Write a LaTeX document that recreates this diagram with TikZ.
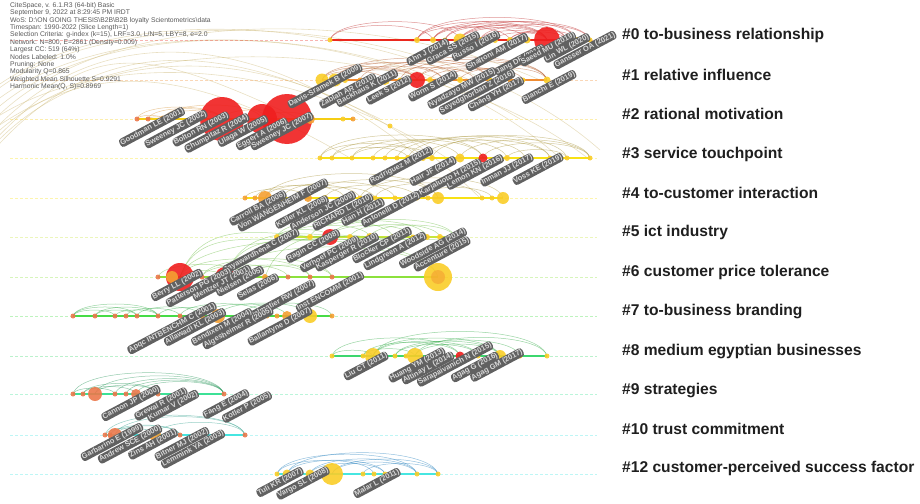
\documentclass[tikz,border=0pt]{standalone}
\usepackage{fontspec}
\setmainfont{Liberation Sans}
\pgfdeclarelayer{bg}
\pgfsetlayers{bg,main}

\definecolor{nyel}{RGB}{250,205,40}
\definecolor{nora}{RGB}{245,160,50}
\definecolor{nsal}{RGB}{235,120,75}
\definecolor{nred}{RGB}{240,30,30}
\definecolor{l0}{RGB}{235,40,30}
\definecolor{l1}{RGB}{240,140,50}
\definecolor{l2}{RGB}{245,205,20}
\definecolor{l3}{RGB}{248,225,20}
\definecolor{l5}{RGB}{200,230,60}
\definecolor{l6}{RGB}{140,225,60}
\definecolor{l7}{RGB}{70,220,70}
\definecolor{l8}{RGB}{60,215,110}
\definecolor{l9}{RGB}{60,225,150}
\definecolor{l10}{RGB}{70,230,225}
\definecolor{a0}{RGB}{190,40,40}
\definecolor{a1}{RGB}{180,90,40}
\definecolor{a2}{RGB}{215,150,60}
\definecolor{a3}{RGB}{170,150,60}
\definecolor{a5}{RGB}{110,190,70}
\definecolor{a7}{RGB}{50,170,70}
\definecolor{a9}{RGB}{40,150,90}
\definecolor{a10}{RGB}{50,160,140}
\definecolor{a12}{RGB}{40,130,190}
\definecolor{tanarc}{RGB}{205,185,120}

\tikzset{
  dot/.style={circle,inner sep=0pt,fill=#1,fill opacity=.9},
  tl/.style={line width=2pt},
  bgline/.style={densely dashed,line width=.5pt,opacity=.35},
  lk/.style={line width=.5pt,opacity=.5},
  bow/.style={out=75,in=105,looseness=.5},
  au/.style={rotate=28,fill=black!62,text=white!85!black,rounded corners=3pt,
    inner sep=1pt,font=\fontsize{7.5}{8}\selectfont\bfseries},
  cl/.style={anchor=west,inner sep=0pt,font=\fontsize{15.6}{17}\selectfont\bfseries,text=black!88},
  hd/.style={anchor=west,inner sep=0pt,font=\fontsize{6.8}{7}\selectfont,text=black!65},
}

\begin{document}
\begin{tikzpicture}[x=1pt,y=-1pt]
\useasboundingbox (0,0) rectangle (920,503);

% timeline guides
\foreach \y/\c in {40/l0,80/l1,119/l2,158/l3,198/l3,237/l5,277/l6,316/l7,356/l8,394/l9,435/l10,474/l10}
  \draw[bgline,\c] (10,\y) -- (597,\y);

% nodes of each cluster
\foreach \x/\s/\c [count=\i] in {330/5/nyel,417/6/nyel,433/6/nyel,445/5/nyel,460/13/nyel,480/6/nyel,495/6/nyel,510/6/nyel,527/7/nyel,547/26/nred,567/10/nyel,577/6/nyel,590/5/nyel}
  \node[dot=\c,minimum size=\s] (r0n\i) at (\x,40) {};
\foreach \x/\s/\c [count=\i] in {322/13/nyel,335/13/nyel,345/6/nyel,360/5/nora,385/10/nyel,400/5/nyel,417/16/nred,430/6/nyel,443/6/nyel,460/6/nyel,475/5/nyel,490/5/nyel,510/5/nora,523/5/nyel,547/7/nyel}
  \node[dot=\c,minimum size=\s] (r1n\i) at (\x,80) {};
\foreach \x/\s/\c [count=\i] in {137/5/nsal,148/5/nsal,163/7/nora,222/44/nred,262/30/nred,287/50/nred,310/10/nora,343/5/nyel,353/5/nora}
  \node[dot=\c,minimum size=\s] (r2n\i) at (\x,119) {};
\node[dot=nyel,minimum size=5] (r2x) at (390,126) {};
\foreach \x/\s/\c [count=\i] in {320/5/nyel,332/5/nyel,352/5/nyel,373/5/nyel,385/5/nyel,397/5/nyel,408/6/nyel,423/6/nyel,432/6/nyel,460/9/nyel,483/9/nred,507/6/nyel,525/5/nyel,550/5/nyel,567/5/nyel,590/5/nyel}
  \node[dot=\c,minimum size=\s] (r3n\i) at (\x,158) {};
\foreach \x/\s/\c [count=\i] in {245/5/nora,255/5/nora,265/14/nora,282/6/nyel,298/5/nyel,308/8/nora,325/6/nyel,345/5/nyel,360/5/nyel,375/5/nyel,395/5/nyel,417/5/nyel,428/5/nyel,438/12/nyel,482/5/nyel,492/5/nyel,503/12/nyel}
  \node[dot=\c,minimum size=\s] (r4n\i) at (\x,198) {};
\foreach \x/\s/\c [count=\i] in {277/6/nyel,287/6/nyel,310/6/nyel,330/16/nred,350/6/nyel,370/8/nyel,393/6/nyel,413/5/nyel,427/6/nyel,440/6/nyel,455/5/nyel}
  \node[dot=\c,minimum size=\s] (r5n\i) at (\x,237) {};
\foreach \x/\s/\c [count=\i] in {158/5/nsal,180/28/nred,172/12/nora,202/5/nsal,225/20/nred,247/5/nsal,265/6/nora,288/5/nsal,310/5/nsal,332/5/nsal,438/28/nyel}
  \node[dot=\c,minimum size=\s] (r6n\i) at (\x,277) {};
\node[dot=nora,minimum size=14,fill opacity=.6] (r6c) at (438,277) {};
\foreach \x/\s/\c [count=\i] in {73/5/nsal,95/5/nsal,115/5/nsal,126/5/nsal,137/5/nsal,158/5/nsal,180/5/nsal,202/6/nora,218/14/nora,240/5/nsal,267/5/nora,277/5/nora,287/10/nora,310/14/nyel,332/5/nora}
  \node[dot=\c,minimum size=\s] (r7n\i) at (\x,316) {};
\foreach \x/\s/\c [count=\i] in {332/5/nyel,363/5/nyel,373/16/nyel,395/5/nyel,406/5/nyel,415/16/nyel,440/5/nyel,460/9/nred,478/5/nyel,500/12/nyel,520/5/nyel,547/5/nyel}
  \node[dot=\c,minimum size=\s] (r8n\i) at (\x,356) {};
\foreach \x/\s/\c [count=\i] in {73/5/nsal,83/5/nsal,95/14/nsal,115/5/nsal,126/5/nsal,136/10/nsal,158/5/nsal,224/5/nsal}
  \node[dot=\c,minimum size=\s] (r9n\i) at (\x,394) {};
\foreach \x/\s/\c [count=\i] in {105/5/nsal,110/5/nsal,115/14/nsal,155/12/nora,180/5/nsal,245/5/nsal}
  \node[dot=\c,minimum size=\s] (r10n\i) at (\x,435) {};
\foreach \x/\s/\c [count=\i] in {277/5/nyel,287/9/nyel,310/9/nyel,332/22/nyel,363/5/nyel,374/5/nyel,385/5/nyel,417/5/nyel,438/5/nyel}
  \node[dot=\c,minimum size=\s] (r12n\i) at (\x,474) {};

\begin{pgfonlayer}{bg}
% long links from the left
\foreach \s/\h/\e/\f in {150/40/300/119,140/20/420/158,120/8/560/158,100/0/600/150,155/30/480/198,135/60/350/158,110/15/520/119,145/25/590/160,125/50/450/160,160/35/380/119,95/10/470/80,130/5/540/80}
  \draw[tanarc,line width=.6pt,opacity=.45] (-15,\s) .. controls (90,\h) and ({\e-170},\h) .. (\e,\f);
% solid spans
\draw[tl,l0] (r0n1.center) -- (r0n13.center);
\draw[tl,l1] (r1n1.center) -- (r1n15.center);
\draw[tl,l2] (r2n1.center) -- (r2n9.center);
\draw[tl,l3] (r3n1.center) -- (r3n16.center);
\draw[tl,l3] (r4n1.center) -- (r4n17.center);
\draw[tl,l5] (r5n1.center) -- (r5n11.center);
\draw[tl,l6] (r6n1.center) -- (r6n11.center);
\draw[tl,l7] (r7n1.center) -- (r7n15.center);
\draw[tl,l8] (r8n1.center) -- (r8n12.center);
\draw[tl,l9] (r9n1.center) -- (r9n8.center);
\draw[tl,l10] (r10n1.center) -- (r10n6.center);
\draw[tl,l10] (r12n1.center) -- (r12n9.center);
% co-citation links
\foreach \a/\b in {1/3,1/5,2/10,3/10,4/10,5/10,6/10,2/12,5/13,7/10,8/11,3/9,4/12,6/13,8/12,2/8,3/11,5/11}
  \draw[lk,a0] (r0n\a.center) to[bow] (r0n\b.center);
\foreach \a/\b in {1/7,2/7,1/5,3/9,5/11,7/13,2/10,4/12,6/15,7/15,9/14,8/13,1/9,5/15,3/7,2/12,10/15}
  \draw[lk,a1] (r1n\a.center) to[bow] (r1n\b.center);
\foreach \a/\b in {1/3,2/4,3/5,3/4,1/4,2/3,4/6,5/7}
  \draw[lk,a2] (r2n\a.center) to[bow] (r2n\b.center);
\foreach \a/\b in {1/8,2/10,3/11,4/12,1/11,5/13,6/14,7/15,9/16,8/14,10/16,2/7,3/9,11/16,12/15}
  \draw[lk,a3] (r3n\a.center) to[bow] (r3n\b.center);
\foreach \a/\b in {1/6,3/9,2/8,4/11,6/14,9/17,7/12,3/14,10/15,12/16,5/10}
  \draw[lk,a3] (r4n\a.center) to[bow] (r4n\b.center);
\foreach \a/\b in {1/4,2/6,4/8,3/9,5/10,6/11,1/7,4/11}
  \draw[lk,a5] (r5n\a.center) to[bow] (r5n\b.center);
\foreach \a/\b in {2/5,2/9,4/10,5/11,2/11,4/8,6/10,1/6,5/9}
  \draw[lk,a5] (r6n\a.center) to[bow] (r6n\b.center);
\foreach \a/\b in {2/4,2/7,5/9,5/6,7/11}
  \draw[lk,a5] (r6n\a.center) to[out=70,in=190] (r5n\b.center);
\foreach \a/\b in {1/3,2/5,3/6,4/7,5/8,1/6,6/9,8/13,9/14,10/15,7/11,2/6,1/5}
  \draw[lk,a7] (r7n\a.center) to[bow] (r7n\b.center);
\foreach \a/\b in {1/3,2/8,3/9,3/10,4/10,5/11,6/12,2/6,6/10,3/12,1/8,4/9}
  \draw[lk,a7] (r8n\a.center) to[bow] (r8n\b.center);
\foreach \a/\b in {1/4,2/6,3/7,1/8,3/8,4/8,5/8,2/7,6/8}
  \draw[lk,a9] (r9n\a.center) to[bow] (r9n\b.center);
\foreach \a/\b in {1/4,3/5,3/6,4/6,2/5,1/6}
  \draw[lk,a10] (r10n\a.center) to[bow] (r10n\b.center);
\foreach \a/\b in {1/6,2/7,3/8,4/9,2/9,3/7,4/8,5/9,1/8}
  \draw[lk,a12] (r12n\a.center) to[bow] (r12n\b.center);
\end{pgfonlayer}

% cited references
\foreach \x/\y/\t [count=\i] in {
  428/52/{Ahn J (2014)},453/48/{Graca SS (2015)},476/46/{Russo I (2016)},497/52/{Shaltoni AM (2017)},
  520/60/{Jang DF (2018)},548/49/{Saeed MU (2019)},567/48/{Lin WL (2020)},585/50/{Gansser OA (2021)},
  325/86/{Davis-Sramek B (2009)},348/91/{Zablah AR (2010)},367/88/{Backhaus K (2011)},389/90/{Leek S (2012)},
  433/86/{Worm S (2014)},462/88/{Nyadzayo MW (2015)},477/92/{Seyedghorban Z (2016)},496/94/{Chang YH (2017)},
  549/87/{Bianchi E (2019)},
  152/127/{Goodman LE (2001)},176/129/{Sweeney JC (2002)},201/129/{Bolton RN (2003)},217/133/{Chumpitaz R (2004)},
  243/131/{Ulaga W (2005)},262/134/{Eggert A (2006)},282/131/{Sweeney JC (2007)},
  401/166/{Rodriguez M (2012)},433/171/{Hair JF (2014)},450/178/{Karjaluoto H (2015)},475/172/{Lemon KN (2016)},
  507/170/{Inman JJ (2017)},538/169/{Voss KE (2019)},
  258/208/{Carroll BA (2006)},283/205/{Von WANGENHEIM F (2007)},302/212/{Keller KL (2008)},323/211/{Anderson JC (2009)},
  343/212/{RICHARD L (2010)},363/212/{Han H (2011)},391/209/{Antonelli D (2012)},
  261/251/{Jayawardhena C (2007)},313/246/{Ragin CC (2008)},330/254/{Verhoef PC (2009)},347/252/{Kasperger R (2010)},
  382/245/{Blocker CP (2011)},395/251/{Lindgreen A (2012)},433/248/{Woodside AG (2014)},442/254/{Accenture (2015)},
  177/285/{Berry LL (2002)},199/287/{Patterson PG (2003)},222/283/{Mentzer JT (2001)},240/281/{Nielsen (2005)},
  258/287/{Selas (2006)},282/300/{Palmatier RW (2007)},330/292/{Inst ENCOMM (2001)},
  172/328/{Apqc INTBENCHM C (2001)},195/327/{Allawadi KL (2003)},222/327/{Bendixen M (2004)},
  238/328/{Algesheimer R (2005)},280/326/{Ballantyne D (2007)},
  366/366/{Liu CT (2011)},417/365/{Huang YM (2013)},428/368/{Altinay L (2014)},455/364/{Sarapaivanich N (2015)},
  475/367/{Agag G (2016)},497/365/{Agag GM (2017)},
  131/403/{Cannon JP (2000)},161/404/{Grewal R (2001)},173/406/{Kumar V (2002)},226/404/{Fang E (2004)},247/407/{Kotler P (2005)},
  112/442/{Garbarino E (1999)},130/444/{Andrew SCE (2000)},153/444/{Zins AH (2001)},182/444/{Bitner MJ (2002)},193/449/{Lemmink YA (2003)},
  280/482/{Tuli KR (2007)},303/483/{Vargo SL (2008)},377/483/{Malar L (2011)}}
  \node[au] (ref\i) at (\x,\y) {\t};

% cluster labels
\foreach \y/\t [count=\i] in {35/{\#0 to-business relationship},75/{\#1 relative influence},114/{\#2 rational motivation},
  154/{\#3 service touchpoint},193/{\#4 to-customer interaction},232/{\#5 ict industry},272/{\#6 customer price tolerance},
  311/{\#7 to-business branding},351/{\#8 medium egyptian businesses},390/{\#9 strategies},429/{\#10 trust commitment},
  468/{\#12 customer-perceived success factor}}
  \node[cl] (cl\i) at (622,\y) {\t};

% run summary
\foreach \t [count=\i] in {{CiteSpace, v. 6.1.R3 (64-bit) Basic},{September 9, 2022 at 8:29:45 PM IRDT},
  {WoS: D:\textbackslash ON GOING THESIS\textbackslash B2B\textbackslash B2B loyalty Scientometrics\textbackslash data},
  {Timespan: 1990-2022 (Slice Length=1)},{Selection Criteria: g-index (k=15), LRF=3.0, L/N=5, LBY=8, e=2.0},
  {Network: N=800, E=2861 (Density=0.009)},{Largest CC: 519 (64\%)},{Nodes Labeled: 1.0\%},{Pruning: None},
  {Modularity Q=0.865},{Weighted Mean Silhouette S=0.9291},{Harmonic Mean(Q, S)=0.8969}}
  \node[hd] (hd\i) at (10,{5.5+7.4*(\i-1)}) {\t};
\end{tikzpicture}
\end{document}
